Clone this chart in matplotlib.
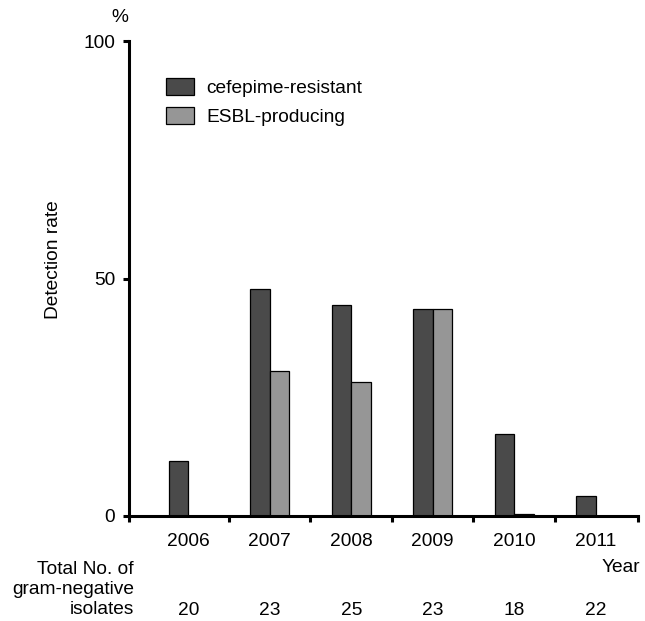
import numpy as np
import matplotlib
matplotlib.use('Agg')
import matplotlib.pyplot as plt
from matplotlib.transforms import blended_transform_factory

plt.rcParams['font.family'] = ['Liberation Sans', 'DejaVu Sans']

YEARS = ['2006', '2007', '2008', '2009', '2010', '2011']
CEFEPIME = [11.6, 47.8, 44.4, 43.5, 17.3, 4.3]   # % cefepime-resistant
ESBL = [0.0, 30.6, 28.2, 43.5, 0.4, 0.0]          # % ESBL-producing
TOTALS = [20, 23, 25, 23, 18, 22]                  # total gram-negative isolates

DARK = '#4a4a4a'
LIGHT = '#969696'
FS = 13.8

fig = plt.figure(figsize=(6.45, 6.21), dpi=100)
ax = fig.add_axes([129 / 645, 1 - 516 / 621, (638 - 129) / 645, (516 - 41) / 621])

x = np.arange(len(YEARS))
w = 0.24
b1 = ax.bar(x - w / 2, CEFEPIME, w, color=DARK, edgecolor='black', linewidth=0.9,
            label='cefepime-resistant')
b2 = ax.bar(x + w / 2, ESBL, w, color=LIGHT, edgecolor='black', linewidth=0.9,
            label='ESBL-producing')

xmin, xmax = -0.727, 5.52
ax.set_xlim(xmin, xmax)
ax.set_ylim(0, 100)

for s in ['top', 'right']:
    ax.spines[s].set_visible(False)
for s in ['left', 'bottom']:
    ax.spines[s].set_linewidth(2.2)

ax.set_yticks([0, 50, 100])
ax.set_yticklabels(['0', '50', '100'], fontsize=FS)
ax.tick_params(axis='y', direction='out', length=4, width=2.2, pad=6)
ax.set_xticks([xmin, 0.5, 1.5, 2.5, 3.5, 4.5, xmax])
ax.set_xticklabels([])
ax.tick_params(axis='x', direction='out', length=4, width=2.2)

ax.set_ylabel('Detection rate', fontsize=FS)
ax.yaxis.set_label_coords(-0.132, 0.54)

tr = blended_transform_factory(ax.transData, ax.transAxes)
for xi, yr, n in zip(x, YEARS, TOTALS):
    ax.text(xi, -0.054, yr, transform=tr, ha='center', va='center', fontsize=FS)
    ax.text(xi, -0.198, str(n), transform=tr, ha='center', va='center', fontsize=FS)

fig.text(120 / 645, 1 - 17 / 621, '%', ha='center', va='center', fontsize=FS)
fig.text(640 / 645, 1 - 568 / 621, 'Year', ha='right', va='center', fontsize=FS)
for lab, yp in zip(['Total No. of', 'gram-negative', 'isolates'], [570, 590, 610]):
    fig.text(134 / 645, 1 - yp / 621, lab, ha='right', va='center', fontsize=FS)

ax.legend(handles=[b1, b2], loc='upper left', bbox_to_anchor=(166 / 645, 1 - 78 / 621),
          bbox_transform=fig.transFigure, frameon=False, fontsize=FS,
          handlelength=1.46, handleheight=1.0, handletextpad=0.66,
          labelspacing=0.52, borderpad=0, borderaxespad=0)

fig.savefig('out.png', dpi=100)
